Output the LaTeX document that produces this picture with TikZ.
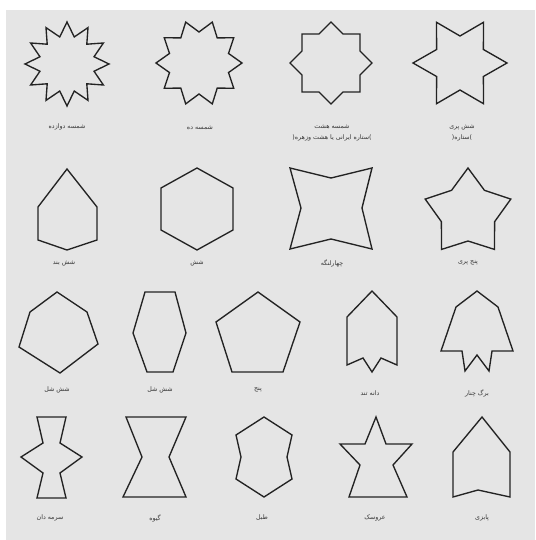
\documentclass[tikz,border=0pt]{standalone}
\usepackage{fontspec}
\usetikzlibrary{calc}
\newfontfamily\arabicfont[Script=Arabic]{DejaVu Sans}
\TeXXeTstate=1
\definecolor{bgc}{RGB}{229,229,229}
\definecolor{ink}{RGB}{35,35,35}
\definecolor{txt}{RGB}{55,55,55}
\begin{document}
\begin{tikzpicture}[x=1pt,y=-1pt,
  tile/.style={draw=ink,line width=1.35pt,line join=miter},
  lbl/.style={text=txt,font=\arabicfont\fontsize{6.3}{7}\selectfont,inner sep=0pt}]
\useasboundingbox (0,0) rectangle (535,540);
\fill[white] (0,0) rectangle (535,540);
\fill[bgc] (6,10) rectangle (535,540);

% ---------- row 1 : stars
\coordinate (c1) at (67,64);
\draw[tile] ($(c1)+(-90:42)$) \foreach \k in {0,...,10}{ -- ($(c1)+(-105-30*\k:28)$) -- ($(c1)+(-120-30*\k:42)$)} -- ($(c1)+(-75:28)$) -- cycle;
\coordinate (c2) at (199,63);
\draw[tile] ($(c2)+(0:43)$) \foreach \k in {0,...,8}{ -- ($(c2)+(-18-36*\k:31)$) -- ($(c2)+(-36-36*\k:43)$)} -- ($(c2)+(18:31)$) -- cycle;
\coordinate (c3) at (331,63);
\draw[tile] ($(c3)+(0:41)$) \foreach \k in {0,...,6}{ -- ($(c3)+(-22.5-45*\k:31.4)$) -- ($(c3)+(-45-45*\k:41)$)} -- ($(c3)+(22.5:31.4)$) -- cycle;
\coordinate (c4) at (460,63);
\draw[tile] ($(c4)+(0:47)$) \foreach \k in {0,...,4}{ -- ($(c4)+(-30-60*\k:27)$) -- ($(c4)+(-60-60*\k:47)$)} -- ($(c4)+(30:27)$) -- cycle;

\node[lbl] (l1) at (67,127) {\beginR شمسه دوازده\endR};
\node[lbl] (l2) at (200,128) {\beginR شمسه ده\endR};
\node[lbl] (l3) at (332,127) {\beginR شمسه هشت\endR};
\node[lbl] (l3b) at (332,138) {(\beginR ستاره ایرانی یا هشت وزهره\endR)};
\node[lbl] (l4) at (462,127) {\beginR شش پری\endR};
\node[lbl] (l4b) at (462,138) {(\beginR ستاره\endR)};

% ---------- row 2
\draw[tile] (67,169) -- (38,207) -- (38,240) -- (67,250) -- (97,240) -- (97,207) -- cycle;
\draw[tile] (197,168) -- (161,188) -- (161,230) -- (197,250) -- (233,230) -- (233,188) -- cycle;
\draw[tile] (290,168) -- (331,178) -- (372,168) -- (362,208) -- (372,249) -- (331,239) -- (290,249) -- (301,208) -- cycle;
\coordinate (c8) at (468,213);
\draw[tile] ($(c8)+(-90:45)$) \foreach \k in {0,...,3}{ -- ($(c8)+(-126-72*\k:28)$) -- ($(c8)+(-162-72*\k:45)$)} -- ($(c8)+(-54:28)$) -- cycle;

\node[lbl] (l5) at (64,263) {\beginR شش بند\endR};
\node[lbl] (l6) at (197,263) {\beginR شش\endR};
\node[lbl] (l7) at (332,263) {\beginR چهارلنگه\endR};
\node[lbl] (l8) at (468,263) {\beginR پنج پری\endR};

% ---------- row 3
\draw[tile] (57,292) -- (30,312) -- (19,347) -- (60,373) -- (98,344) -- (87,312) -- cycle;
\draw[tile] (145,292) -- (175,292) -- (186,333) -- (173,372) -- (147,372) -- (133,333) -- cycle;
\draw[tile] (258,292) -- (216,322) -- (232,372) -- (283,372) -- (300,322) -- cycle;
\draw[tile] (372,291) -- (347,317) -- (347,365) -- (363,358) -- (372,372) -- (381,358) -- (397,365) -- (397,317) -- cycle;
\draw[tile] (477,291) -- (456,307) -- (441,351) -- (462,351) -- (465,371) -- (477,355) -- (489,371) -- (492,351) -- (513,351) -- (498,307) -- cycle;

\node[lbl] (l9) at (57,390) {\beginR شش شل\endR};
\node[lbl] (l10) at (160,390) {\beginR شش شل\endR};
\node[lbl] (l11) at (258,390) {\beginR پنج\endR};
\node[lbl] (l12) at (370,393) {\beginR دانه تند\endR};
\node[lbl] (l13) at (477,393) {\beginR برگ چنار\endR};

% ---------- row 4
\draw[tile] (37,417) -- (66,417) -- (60,443) -- (82,457) -- (60,473) -- (66,498) -- (37,498) -- (43,473) -- (21,457) -- (43,443) -- cycle;
\draw[tile] (126,417) -- (186,417) -- (169,457) -- (186,497) -- (123,497) -- (142,457) -- cycle;
\draw[tile] (264,417) -- (292,435) -- (287,457) -- (292,479) -- (264,497) -- (236,479) -- (241,457) -- (236,435) -- cycle;
\draw[tile] (376,417) -- (386,444) -- (412,444) -- (393,465) -- (407,497) -- (349,497) -- (360,465) -- (340,444) -- (365,444) -- cycle;
\draw[tile] (482,417) -- (453,452) -- (453,497) -- (478,490) -- (510,497) -- (510,452) -- cycle;

\node[lbl] (l14) at (50,518) {\beginR سرمه دان\endR};
\node[lbl] (l15) at (155,518) {\beginR گیوه\endR};
\node[lbl] (l16) at (262,518) {\beginR طبل\endR};
\node[lbl] (l17) at (375,518) {\beginR عروسک\endR};
\node[lbl] (l18) at (482,518) {\beginR پابزی\endR};
\end{tikzpicture}
\end{document}
